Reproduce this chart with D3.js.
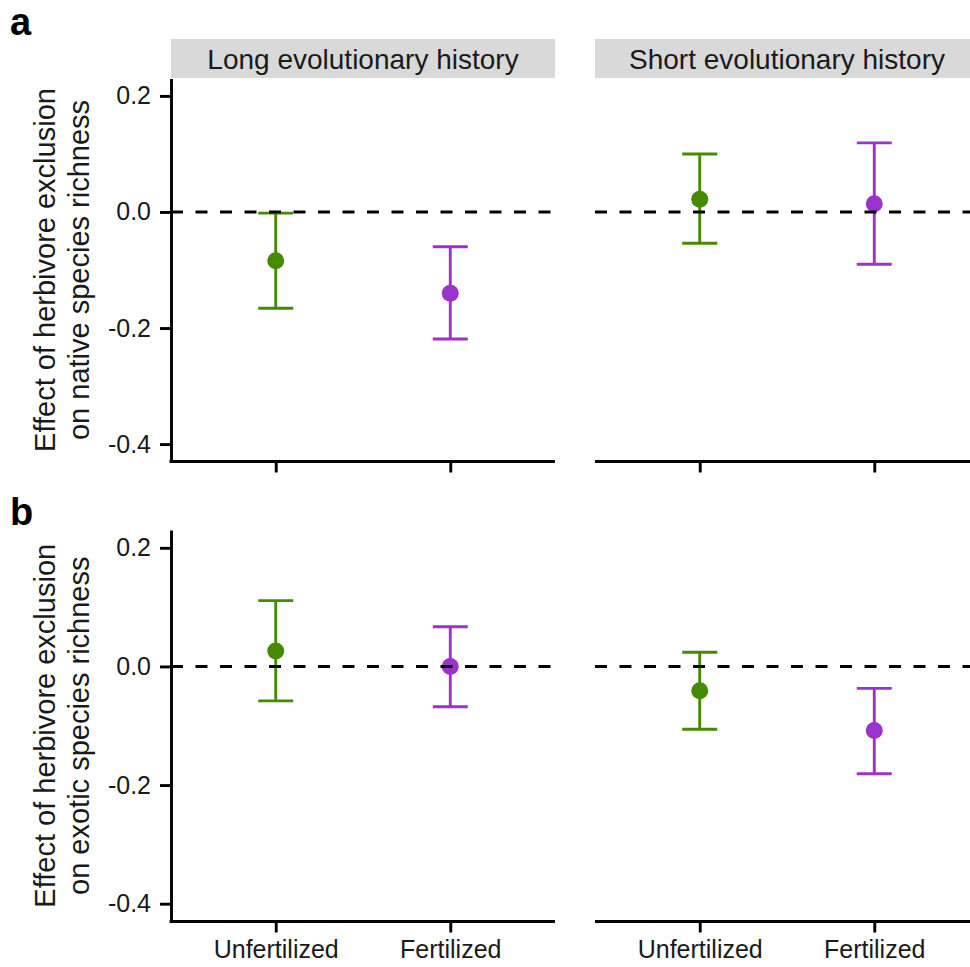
<!DOCTYPE html>
<html>
<head>
<meta charset="utf-8">
<script src="https://cdn.jsdelivr.net/npm/d3@7"></script>
<style>
  html, body { margin: 0; padding: 0; background: #fff; }
  svg { display: block; }
  text { font-family: "Liberation Sans", Arial, Helvetica, sans-serif; fill: #1a1a1a; }
</style>
</head>
<body>
<script>
// ---------- data ----------
const treatments = ["Unfertilized", "Fertilized"];
const histories = ["Long evolutionary history", "Short evolutionary history"];
const yTicks = [-0.4, -0.2, 0.0, 0.2];
const yDomain = [-0.43, 0.23];

// Panel a: native species richness  (order: Long-Unf, Long-Fert, Short-Unf, Short-Fert)
const nativeMean  = [-0.084, -0.140, 0.022, 0.014];
const nativeLower = [-0.166, -0.219, -0.054, -0.090];
const nativeUpper = [-0.002, -0.060, 0.100, 0.119];

// Panel b: exotic species richness
const exoticMean  = [0.026, 0.000, -0.041, -0.108];
const exoticLower = [-0.058, -0.068, -0.106, -0.181];
const exoticUpper = [0.111, 0.067, 0.024, -0.037];

const rowLabels = ["a", "b"];
const yTitles = [
  ["Effect of herbivore exclusion", "on native species richness"],
  ["Effect of herbivore exclusion", "on exotic species richness"]
];

const colors = { "Unfertilized": "#458B00", "Fertilized": "#9A32CD" };

// ---------- layout ----------
const W = 970, H = 967;
const svg = d3.select("body").append("svg").attr("width", W).attr("height", H);
svg.append("rect").attr("width", W).attr("height", H).attr("fill", "#fff");

const colX = [[171, 555], [595, 979]];
const rows = [
  { top: 78.5, bottom: 461.5, mean: nativeMean, lower: nativeLower, upper: nativeUpper, strip: true, labelY: 35 },
  { top: 530, bottom: 921.5, mean: exoticMean, lower: exoticLower, upper: exoticUpper, strip: false, labelY: 525 }
];

const lw = 2.9;

rows.forEach((row, ri) => {
  const y = d3.scaleLinear().domain(yDomain).range([row.bottom, row.top]);

  // panel label
  svg.append("text").attr("x", 10).attr("y", row.labelY)
    .attr("font-size", 38).attr("font-weight", "bold").style("fill", "#000")
    .text(rowLabels[ri]);

  // y axis title
  const cy = (row.top + row.bottom) / 2;
  const tg = svg.append("g").attr("transform", `translate(0,${cy}) rotate(-90)`);
  tg.append("text").attr("x", 0).attr("y", 55).attr("text-anchor", "middle")
    .attr("font-size", 29).text(yTitles[ri][0]);
  tg.append("text").attr("x", 0).attr("y", 89).attr("text-anchor", "middle")
    .attr("font-size", 29).text(yTitles[ri][1]);

  histories.forEach((hist, ci) => {
    const [x0, x1] = colX[ci];
    const x = d3.scalePoint().domain(treatments).range([x0, x1]).padding(0.6);
    const g = svg.append("g");

    // strip
    if (row.strip) {
      g.append("rect").attr("x", x0).attr("y", 39).attr("width", x1 - x0).attr("height", 39)
        .attr("fill", "#D9D9D9");
      g.append("text").attr("x", (x0 + x1) / 2).attr("y", 68.5).attr("text-anchor", "middle")
        .attr("font-size", 28).text(hist);
    }

    // y axis (left column only)
    if (ci === 0) {
      const ya = g.append("g").attr("transform", `translate(${x0},0)`)
        .call(d3.axisLeft(y).tickValues(yTicks).tickFormat(d3.format(".1f")).tickSize(11).tickPadding(9).tickSizeOuter(0));
      ya.select(".domain").attr("stroke", "#000").attr("stroke-width", lw);
      ya.selectAll(".tick line").attr("stroke", "#000").attr("stroke-width", lw);
      ya.selectAll(".tick text").attr("font-size", 25).attr("font-family", "Liberation Sans, Arial, sans-serif")
        .style("fill", "#1a1a1a").text(d => d3.format(".1f")(d).replace("−", "-"));
    }

    // x axis
    const xa = g.append("g").attr("transform", `translate(0,${row.bottom})`)
      .call(d3.axisBottom(x).tickSize(11).tickPadding(8).tickSizeOuter(0));
    xa.select(".domain").attr("stroke", "#000").attr("stroke-width", lw)
      .attr("d", `M${x0 - (ci === 0 ? lw / 2 : 0)},0H${x1}`);
    xa.selectAll(".tick line").attr("stroke", "#000").attr("stroke-width", lw);
    xa.selectAll(".tick text").attr("font-size", 25).attr("font-family", "Liberation Sans, Arial, sans-serif")
      .style("fill", "#1a1a1a")
      .style("display", ri === rows.length - 1 ? null : "none");

    // data
    const data = treatments.map((t, ti) => {
      const k = ci * 2 + ti;
      return { t, m: row.mean[k], lo: row.lower[k], hi: row.upper[k] };
    });

    const eb = g.append("g");
    data.forEach(d => {
      const cx = x(d.t);
      const c = colors[d.t];
      eb.append("line").attr("x1", cx).attr("x2", cx).attr("y1", y(d.lo)).attr("y2", y(d.hi))
        .attr("stroke", c).attr("stroke-width", lw);
      [d.lo, d.hi].forEach(v => {
        eb.append("line").attr("x1", cx - 17.5).attr("x2", cx + 17.5).attr("y1", y(v)).attr("y2", y(v))
          .attr("stroke", c).attr("stroke-width", lw);
      });
      eb.append("circle").attr("cx", cx).attr("cy", y(d.m)).attr("r", 8.5).attr("fill", c);
    });

    // zero reference line
    g.append("line").attr("x1", x0).attr("x2", x1).attr("y1", y(0)).attr("y2", y(0))
      .attr("stroke", "#000").attr("stroke-width", 3).attr("stroke-dasharray", "12,12.5");
  });
});
</script>
</body>
</html>
